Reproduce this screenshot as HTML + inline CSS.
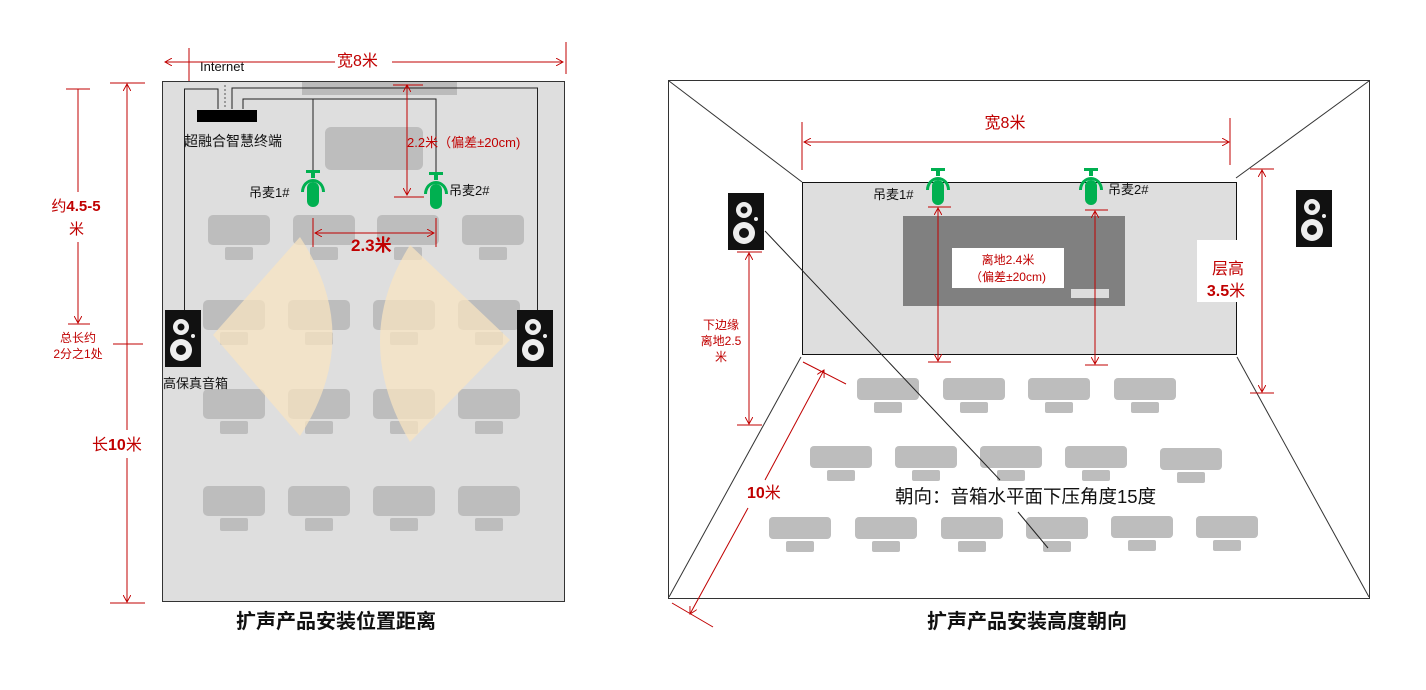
<!DOCTYPE html>
<html><head><meta charset="utf-8"><style>
html,body{margin:0;padding:0;background:#fff;}
svg{display:block;}
text{font-family:"Liberation Sans","Noto Sans CJK SC",sans-serif;}
</style></head><body>
<svg width="1426" height="690" viewBox="0 0 1426 690" xmlns="http://www.w3.org/2000/svg">
<defs>
<g id="seat"><rect x="-31" y="0" width="62" height="30" rx="5" fill="#bdbdbd"/><rect x="-14" y="32" width="28" height="13" rx="2" fill="#bdbdbd"/></g>
<g id="seat2"><rect x="-31" y="0" width="62" height="22" rx="4" fill="#bdbdbd"/><rect x="-14" y="24" width="28" height="11" rx="2" fill="#bdbdbd"/></g>
<g id="spk"><rect x="0" y="0" width="36" height="57" fill="#111"/><circle cx="16" cy="17" r="8" fill="#eee"/><circle cx="16" cy="17" r="3.5" fill="#111"/><circle cx="16" cy="40" r="11" fill="#eee"/><circle cx="16" cy="40" r="5" fill="#111"/><circle cx="28" cy="26" r="2" fill="#eee"/></g>
<g id="mic" fill="#00b050"><rect x="-7" y="0" width="14" height="3"/><rect x="-2" y="2" width="4" height="6"/><path d="M-12,22 A12,13 0 0 1 12,22 L9,22 A9,10 0 0 0 -9,22Z"/><rect x="-6" y="12" width="12" height="25" rx="6"/></g>
<marker id="ar" viewBox="0 0 10 10" refX="9" refY="5" markerWidth="8" markerHeight="8" orient="auto-start-reverse"><path d="M0,0 L9,5 L0,10" fill="none" stroke="#c00000" stroke-width="1.2"/></marker>
</defs>

<!-- LEFT PANEL -->
<rect x="162.5" y="81.5" width="402" height="520" fill="#dedede" stroke="#333"/>
<rect x="302" y="82" width="155" height="13" fill="#bbb"/>
<rect x="325" y="127" width="98" height="43" rx="6" fill="#bdbdbd"/>
<g fill="none" stroke="#222" stroke-width="1">
<path d="M218,109 V89 H184.5 V310"/>
<path d="M232,109 V88 H537.5 V310"/>
<path d="M243,109 V99 H436 V172"/>
<path d="M313,99 V172"/>
</g>
<path d="M225,85 V109" stroke="#555" stroke-dasharray="2,2"/>
<rect x="197" y="110" width="60" height="12" fill="#000"/>
<text x="200" y="71" font-size="13" fill="#111">Internet</text>
<text x="184" y="146" font-size="14" fill="#111">超融合智慧终端</text>

<use href="#seat" x="239" y="215"/><use href="#seat" x="324" y="215"/><use href="#seat" x="408" y="215"/><use href="#seat" x="493" y="215"/>
<use href="#seat" x="234" y="300"/><use href="#seat" x="319" y="300"/><use href="#seat" x="404" y="300"/><use href="#seat" x="489" y="300"/>
<use href="#seat" x="234" y="389"/><use href="#seat" x="319" y="389"/><use href="#seat" x="404" y="389"/><use href="#seat" x="489" y="389"/>
<use href="#seat" x="234" y="486"/><use href="#seat" x="319" y="486"/><use href="#seat" x="404" y="486"/><use href="#seat" x="489" y="486"/>

<path d="M300,237 L213,335 L300,436 Q365,336 300,237Z" fill="#f8e4c2" opacity="0.75"/>
<path d="M410,245 Q350,340 410,442 L510,340Z" fill="#f8e4c2" opacity="0.75"/>

<use href="#spk" x="165" y="310"/><use href="#spk" x="517" y="310"/>
<text x="163" y="388" font-size="13" fill="#111">高保真音箱</text>

<use href="#mic" x="313" y="170"/><use href="#mic" x="436" y="172"/>
<text x="249" y="197" font-size="13" fill="#111">吊麦1#</text>
<text x="449" y="195" font-size="13" fill="#111">吊麦2#</text>

<g stroke="#c00000" fill="none" stroke-width="1">
<line x1="165" y1="62" x2="335" y2="62" marker-start="url(#ar)"/>
<line x1="392" y1="62" x2="563" y2="62" marker-end="url(#ar)"/>
<line x1="189" y1="48" x2="189" y2="81"/>
<line x1="566" y1="42" x2="566" y2="74"/>
<line x1="407" y1="85" x2="407" y2="195" marker-start="url(#ar)" marker-end="url(#ar)"/>
<line x1="393" y1="85" x2="423" y2="85"/><line x1="394" y1="197" x2="424" y2="197"/>
<line x1="313" y1="218" x2="313" y2="247"/><line x1="436" y1="218" x2="436" y2="247"/>
<line x1="315" y1="233" x2="434" y2="233" marker-start="url(#ar)" marker-end="url(#ar)"/>
<line x1="127" y1="84" x2="127" y2="430" marker-start="url(#ar)"/>
<line x1="127" y1="458" x2="127" y2="602" marker-end="url(#ar)"/>
<line x1="110" y1="83" x2="145" y2="83"/><line x1="110" y1="603" x2="145" y2="603"/>
<line x1="113" y1="344" x2="143" y2="344"/>
<line x1="78" y1="89" x2="78" y2="192"/>
<line x1="78" y1="242" x2="78" y2="323" marker-end="url(#ar)"/>
<line x1="66" y1="89" x2="90" y2="89"/><line x1="68" y1="324" x2="90" y2="324"/>
</g>
<text x="337" y="66" font-size="16" fill="#c00000">宽8米</text>
<text x="407" y="147" font-size="13" fill="#c00000">2.2米（偏差±20cm)</text>
<text x="351" y="251" font-size="17" font-weight="bold" fill="#c00000">2.3米</text>
<text x="92" y="450" font-size="16" fill="#c00000">长<tspan font-weight="bold">10</tspan>米</text>
<text x="76" y="211" font-size="15" fill="#c00000" text-anchor="middle">约<tspan font-weight="bold">4.5-5</tspan></text>
<text x="69" y="234" font-size="15" fill="#c00000">米</text>
<text x="78" y="342" font-size="12" fill="#c00000" text-anchor="middle">总长约</text>
<text x="78" y="358" font-size="12" fill="#c00000" text-anchor="middle">2分之1处</text>
<text x="236" y="628" font-size="20" font-weight="bold" fill="#111">扩声产品安装位置距离</text>

<!-- RIGHT PANEL -->
<rect x="668.5" y="80.5" width="701" height="518" fill="#fff" stroke="#333"/>
<g stroke="#333" stroke-width="1">
<line x1="669" y1="81" x2="802" y2="182"/>
<line x1="1369" y1="81" x2="1236" y2="178"/>
<line x1="669" y1="597" x2="801" y2="357"/>
<line x1="1369" y1="597" x2="1237" y2="357"/>
</g>
<rect x="802.5" y="182.5" width="434" height="172" fill="#dedede" stroke="#111"/>
<rect x="903" y="216" width="222" height="90" fill="#808080"/>
<rect x="952" y="248" width="112" height="40" fill="#fff"/>
<rect x="1071" y="289" width="38" height="9" fill="#ddd"/>
<rect x="1197" y="240" width="58" height="62" fill="#fff"/>

<use href="#seat2" x="888" y="378"/><use href="#seat2" x="974" y="378"/><use href="#seat2" x="1059" y="378"/><use href="#seat2" x="1145" y="378"/>
<use href="#seat2" x="841" y="446"/><use href="#seat2" x="926" y="446"/><use href="#seat2" x="1011" y="446"/><use href="#seat2" x="1096" y="446"/><use href="#seat2" x="1191" y="448"/>
<use href="#seat2" x="800" y="517"/><use href="#seat2" x="886" y="517"/><use href="#seat2" x="972" y="517"/><use href="#seat2" x="1057" y="517"/><use href="#seat2" x="1142" y="516"/><use href="#seat2" x="1227" y="516"/>

<line x1="765" y1="231" x2="1000" y2="480" stroke="#222"/>
<line x1="1018" y1="512" x2="1048" y2="548" stroke="#222"/>
<use href="#spk" x="728" y="193"/><use href="#spk" x="1296" y="190"/>

<use href="#mic" x="938" y="168"/><use href="#mic" x="1091" y="168"/>
<text x="873" y="199" font-size="13" fill="#111">吊麦1#</text>
<text x="1108" y="194" font-size="13" fill="#111">吊麦2#</text>

<g stroke="#c00000" fill="none" stroke-width="1">
<line x1="804" y1="142" x2="1229" y2="142" marker-start="url(#ar)" marker-end="url(#ar)"/>
<line x1="802" y1="122" x2="802" y2="170"/><line x1="1230" y1="118" x2="1230" y2="165"/>
<line x1="938" y1="208" x2="938" y2="361" marker-start="url(#ar)" marker-end="url(#ar)"/>
<line x1="928" y1="207" x2="951" y2="207"/><line x1="928" y1="362" x2="951" y2="362"/>
<line x1="1095" y1="211" x2="1095" y2="364" marker-start="url(#ar)" marker-end="url(#ar)"/>
<line x1="1085" y1="210" x2="1108" y2="210"/><line x1="1085" y1="365" x2="1108" y2="365"/>
<line x1="749" y1="253" x2="749" y2="424" marker-start="url(#ar)" marker-end="url(#ar)"/>
<line x1="737" y1="252" x2="762" y2="252"/><line x1="737" y1="425" x2="762" y2="425"/>
<line x1="1262" y1="170" x2="1262" y2="392" marker-start="url(#ar)" marker-end="url(#ar)"/>
<line x1="1250" y1="169" x2="1274" y2="169"/><line x1="1250" y1="393" x2="1274" y2="393"/>
<line x1="803" y1="362" x2="846" y2="384"/>
<line x1="672" y1="603" x2="713" y2="627"/>
<line x1="824" y1="370" x2="765" y2="480" marker-start="url(#ar)"/>
<line x1="748" y1="508" x2="690" y2="614" marker-end="url(#ar)"/>
</g>
<text x="1005" y="128" font-size="16" fill="#c00000" text-anchor="middle">宽8米</text>
<text x="1008" y="264" font-size="12" fill="#c00000" text-anchor="middle">离地2.4米</text>
<text x="1008" y="281" font-size="12" fill="#c00000" text-anchor="middle">（偏差±20cm)</text>
<text x="1228" y="274" font-size="16" fill="#c00000" text-anchor="middle">层高</text>
<text x="1226" y="296" font-size="16" fill="#c00000" text-anchor="middle"><tspan font-weight="bold">3.5</tspan>米</text>
<text x="721" y="329" font-size="12" fill="#c00000" text-anchor="middle">下边缘</text>
<text x="721" y="345" font-size="12" fill="#c00000" text-anchor="middle">离地2.5</text>
<text x="721" y="361" font-size="12" fill="#c00000" text-anchor="middle">米</text>
<text x="747" y="498" font-size="16" fill="#c00000"><tspan font-weight="bold">10</tspan>米</text>
<text x="895" y="503" font-size="18.5" fill="#111">朝向：音箱水平面下压角度15度</text>
<text x="927" y="628" font-size="20" font-weight="bold" fill="#111">扩声产品安装高度朝向</text>
</svg>
</body></html>
